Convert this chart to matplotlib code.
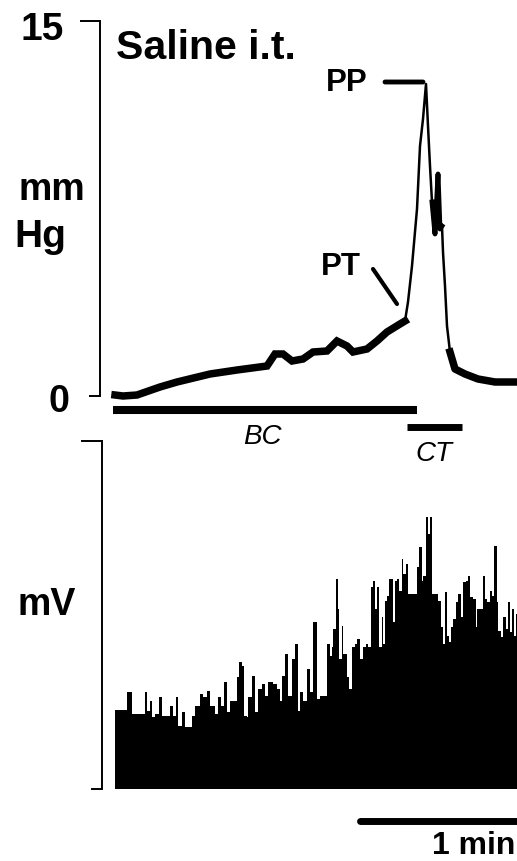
import numpy as np
import matplotlib
matplotlib.use("Agg")
import matplotlib.pyplot as plt

# x axis in recording bins (1 bin ~ 0.38 s, 157 bins = 1 min)
BINS_PER_MIN = 157

# intravesical pressure (mmHg)
p_bin = np.array([0, 8, 22, 45, 62, 95, 122, 152, 160, 168, 177, 188, 198, 212, 222, 232,
                  238, 252, 262, 272, 285, 290, 293, 297, 302, 305, 308, 311, 313, 315,
                  317, 320, 323, 325, 327, 328, 330, 332, 335, 340, 350, 363, 380, 402])
p_val = np.array([0.04, 0.0, 0.04, 0.36, 0.56, 0.88, 1.04, 1.2, 1.68, 1.68, 1.4, 1.48, 1.76,
                  1.8, 2.2, 2.0, 1.76, 1.88, 2.2, 2.56, 2.88, 3.0, 3.76, 5.2, 7.48, 10.0,
                  11.08, 12.48, 10.8, 9.2, 7.76, 6.48, 8.88, 6.68, 6.8, 5.76, 4.4, 2.8,
                  1.76, 1.08, 0.88, 0.68, 0.56, 0.56])

# EMG rectified amplitude (a.u.)
emg_bin = np.array([0, 10, 12, 15, 17, 23, 30, 32, 35, 37, 40, 44, 47, 53, 55, 58, 61, 63,
                    67, 70, 73, 77, 80, 85, 88, 92, 95, 100, 103, 106, 109, 112, 115, 118,
                    122, 124, 127, 129, 132, 133, 137, 140, 143, 147, 150, 153, 158, 162,
                    165, 167, 170, 173, 177, 180, 183, 185, 188, 192, 195, 198, 202, 205,
                    210, 212, 215, 217, 218, 221, 223, 224, 227, 228, 232, 234, 237, 240,
                    242, 245, 248, 251, 253, 256, 258, 260, 262, 264, 267, 268, 270, 272,
                    274, 275, 278, 280, 282, 284, 287, 288, 291, 293, 298, 302, 304, 307,
                    308, 311, 313, 315, 317, 320, 323, 326, 328, 330, 332, 334, 336, 338,
                    341, 343, 346, 348, 351, 353, 355, 358, 361, 362, 365, 368, 370, 372,
                    375, 377, 379, 382, 383, 386, 388, 391, 393, 395, 397, 399, 401, 402])
emg_amp = np.array([79, 79, 97, 97, 75, 75, 97, 78, 88, 72, 75, 92, 73, 73, 83, 73, 92, 63,
                    77, 62, 62, 73, 83, 95, 92, 98, 83, 75, 92, 83, 107, 77, 88, 88,
                    112, 127, 123, 73, 72, 92, 113, 77, 100, 105, 93, 107, 105, 100,
                    88, 113, 135, 93, 130, 145, 78, 97, 88, 120, 97, 167, 90, 93,
                    93, 145, 133, 142, 160, 210, 180, 130, 163, 135, 112, 100, 142, 145,
                    150, 130, 142, 145, 142, 202, 208, 180, 202, 142, 172, 145, 188, 193,
                    210, 210, 167, 208, 210, 198, 230, 215, 225, 195, 195, 222, 242, 208,
                    213, 272, 255, 272, 195, 195, 188, 162, 145, 197, 153, 147, 162, 170,
                    187, 195, 172, 207, 208, 213, 192, 190, 162, 180, 180, 213, 190, 187,
                    198, 193, 243, 187, 158, 152, 172, 160, 187, 157, 180, 153, 175, 175])

# stimulus periods (bins)
bc_span = (-2, 302)
ct_span = (292, 347)

W, H = 517, 862
def fx(px): return px / W
def fy(py): return 1 - py / H

plt.rcParams["font.family"] = ["Liberation Sans", "DejaVu Sans"]
fig = plt.figure(figsize=(W / 100, H / 100), dpi=100)

# ---- pressure panel ----
ax1 = fig.add_axes([fx(100), fy(472), fx(517) - fx(100), (472 - 22) / H])
ax1.set_xlim(-15, 402); ax1.set_ylim(-3, 15)
slow1 = p_bin <= 290
rise = (p_bin >= 290) & (p_bin <= 335)
dip = (p_bin >= 317) & (p_bin <= 327)
slow2 = p_bin >= 335
ax1.plot(p_bin[slow1], p_val[slow1], color="k", lw=5.4, solid_joinstyle="miter")
ax1.plot(p_bin[rise], p_val[rise], color="k", lw=1.8)
ax1.plot(p_bin[dip], p_val[dip], color="k", lw=3.5)
ax1.plot(p_bin[slow2], p_val[slow2], color="k", lw=5.4)
ax1.plot(bc_span, [-0.56, -0.56], color="k", lw=5.8, clip_on=False, solid_capstyle="butt")
ax1.plot(ct_span, [-1.24, -1.24], color="k", lw=5.0, clip_on=False, solid_capstyle="butt")
ax1.annotate("", xy=(308, 12.56), xytext=(270, 12.56),
             arrowprops=dict(arrowstyle="-", lw=3.5, color="k", shrinkA=0, shrinkB=0))
ax1.annotate("", xy=(282, 3.68), xytext=(258, 5.08),
             arrowprops=dict(arrowstyle="-", lw=3.0, color="k", shrinkA=0, shrinkB=0))

for s in ("top", "right", "bottom"):
    ax1.spines[s].set_visible(False)
ax1.spines["left"].set_bounds(0, 15)
ax1.spines["left"].set_linewidth(1.4)
ax1.set_xticks([])
ax1.set_yticks([15]); ax1.set_yticks([0], minor=True)
ax1.tick_params(axis="y", which="major", length=14.4, width=1.4, labelleft=False)
ax1.tick_params(axis="y", which="minor", length=8.0, width=1.4, labelleft=False)

# ---- EMG panel ----
ax2 = fig.add_axes([fx(102), fy(790), fx(517) - fx(102), 348 / H])
ax2.set_xlim(-13, 402); ax2.set_ylim(0, 348)
ax2.fill_between(emg_bin, emg_amp, step="post", color="k", lw=0)
ax2.plot([402 - BINS_PER_MIN, 402], [-32, -32], color="k", lw=5.0,
         solid_capstyle="round", clip_on=False)
for s in ("top", "right", "bottom"):
    ax2.spines[s].set_visible(False)
ax2.spines["left"].set_linewidth(1.4)
ax2.set_xticks([])
ax2.set_yticks([348]); ax2.set_yticks([0], minor=True)
ax2.tick_params(axis="y", which="major", length=15.0, width=1.4, labelleft=False)
ax2.tick_params(axis="y", which="minor", length=8.0, width=1.4, labelleft=False)

# ---- labels ----
big = dict(fontsize=27, fontweight="bold", color="k")
fig.text(fx(64), fy(30), "15", ha="right", va="center", fontsize=28, fontweight="bold")
fig.text(fx(69), fy(402), "0", ha="right", va="center", **big)
fig.text(fx(52), fy(190), "mm", ha="center", va="center", **big)
fig.text(fx(14), fy(237), "Hg", ha="left", va="center", fontsize=28, fontweight="bold")
fig.text(fx(18), fy(605), "mV", ha="left", va="center", **big)
fig.text(fx(116), fy(48), "Saline i.t.", ha="left", va="center", fontsize=29.5,
         fontweight="bold")
fig.text(fx(326), fy(83), "PP", ha="left", va="center", fontsize=22.5, fontweight="bold")
fig.text(fx(321), fy(267), "PT", ha="left", va="center", fontsize=22.5, fontweight="bold")
fig.text(fx(262), fy(437), "BC", ha="center", va="center", fontsize=20, style="italic")
fig.text(fx(434), fy(454), "CT", ha="center", va="center", fontsize=20, style="italic")
fig.text(fx(515), fy(861), "1 min", ha="right", va="bottom", fontsize=23, fontweight="bold")

fig.savefig("out.png", dpi=100)
